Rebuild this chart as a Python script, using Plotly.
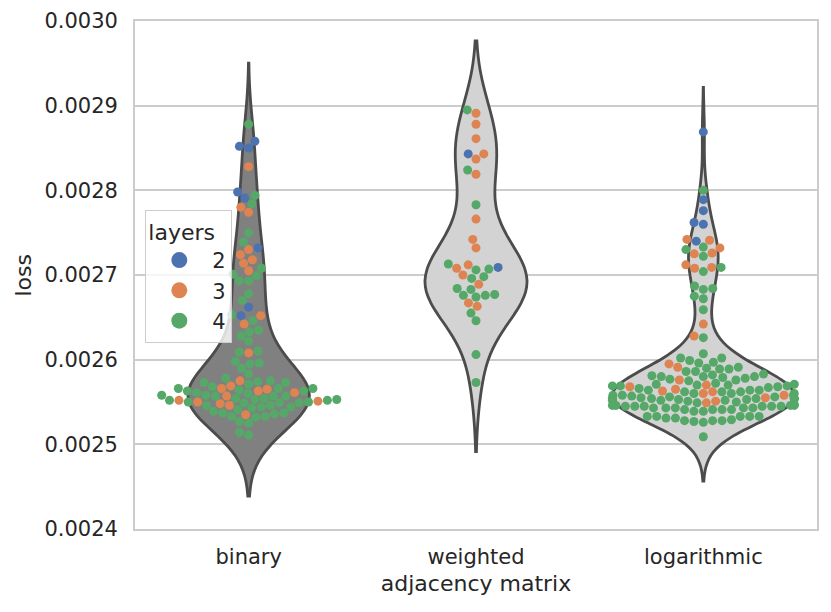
import numpy as np
import plotly.graph_objects as go

# ---------------- data ----------------
categories = ["binary", "weighted", "logarithmic"]
layer_names = ["2", "3", "4"]
layer_colors = ["#4C72B0", "#DD8452", "#55A868"]
violin_fills = ["#808080", "#D3D3D3", "#D3D3D3"]
violin_edge = "#4C4C4C"
y_ticks = [0.0024, 0.0025, 0.0026, 0.0027, 0.0028, 0.0029, 0.0030]

binary_l2 = [0.002858, 0.002852, 0.002850, 0.002798, 0.002791, 0.002732, 0.002662, 0.002652]
binary_l3 = [0.002828, 0.002780, 0.002774, 0.002730, 0.002724, 0.002718, 0.002714, 0.002705,
             0.002652, 0.002642, 0.002608,
             0.002550, 0.002561, 0.002565, 0.002546, 0.002569, 0.002575, 0.002548, 0.002557,
             0.002552, 0.002535, 0.002566, 0.002563, 0.002551]
binary_l4 = [0.002878, 0.002794, 0.002784, 0.002750, 0.002739, 0.002708, 0.002701, 0.002699,
             0.002693, 0.002693, 0.002678, 0.002670, 0.002653, 0.002646, 0.002635, 0.002633,
             0.002628, 0.002622, 0.002610, 0.002609, 0.002598, 0.002596, 0.002595, 0.002590,
             0.002583,
             0.002573, 0.002578, 0.002575, 0.002568, 0.002574, 0.002571, 0.002573, 0.002566,
             0.002563, 0.002564, 0.002563, 0.002566, 0.002566, 0.002557, 0.002557, 0.002558,
             0.002558, 0.002560, 0.002561, 0.002557, 0.002554, 0.002553, 0.002552, 0.002549,
             0.002553, 0.002549, 0.002554, 0.002550, 0.002549, 0.002550, 0.002552, 0.002546,
             0.002544, 0.002543, 0.002544, 0.002546, 0.002539, 0.002536, 0.002533, 0.002532,
             0.002533, 0.002537, 0.002541, 0.002537, 0.002527, 0.002525, 0.002514, 0.002511]

weighted_l2 = [0.002843, 0.002709]
weighted_l3 = [0.002891, 0.002878, 0.002861, 0.002843, 0.002837, 0.002819, 0.002766, 0.002742,
               0.002732, 0.002708, 0.002712, 0.002700, 0.002689, 0.002667, 0.002663]
weighted_l4 = [0.002895, 0.002824, 0.002783, 0.002713, 0.002707, 0.002706, 0.002696, 0.002698,
               0.002677, 0.002676, 0.002683, 0.002684, 0.002676, 0.002674, 0.002655, 0.002646,
               0.002606, 0.002573]

logarithmic_l2 = [0.002869, 0.002789, 0.002776, 0.002762, 0.002760, 0.002740]
logarithmic_l3 = [0.002742, 0.002741, 0.002732, 0.002725, 0.002726, 0.002712, 0.002708, 0.002709,
                  0.002642, 0.002628,
                  0.002595, 0.002591, 0.002576, 0.002568, 0.002565, 0.002562, 0.002560, 0.002563,
                  0.002570, 0.002551, 0.002558, 0.002555, 0.002549]
logarithmic_l4 = [0.002800, 0.002730, 0.002733, 0.002722, 0.002704, 0.002709, 0.002687, 0.002683,
                  0.002684, 0.002675, 0.002672, 0.002659, 0.002626,
                  0.002607, 0.002602, 0.002602, 0.002599, 0.002597, 0.002596,
                  0.002586, 0.002589, 0.002589, 0.002590, 0.002591, 0.002583, 0.002586,
                  0.002577, 0.002580, 0.002579, 0.002578, 0.002580, 0.002581, 0.002580, 0.002582,
                  0.002569, 0.002572, 0.002569, 0.002568, 0.002576, 0.002575, 0.002571, 0.002570,
                  0.002569, 0.002567, 0.002571,
                  0.002562, 0.002564, 0.002562, 0.002560, 0.002558, 0.002566, 0.002558, 0.002562,
                  0.002564, 0.002564, 0.002560, 0.002570,
                  0.002554, 0.002554, 0.002558, 0.002552, 0.002554, 0.002551, 0.002550, 0.002554,
                  0.002556, 0.002553, 0.002554, 0.002553, 0.002554, 0.002554, 0.002552, 0.002556,
                  0.002552,
                  0.002545, 0.002541, 0.002539, 0.002545, 0.002543, 0.002541, 0.002543, 0.002541,
                  0.002545, 0.002546, 0.002546, 0.002545, 0.002543, 0.002545, 0.002543, 0.002543,
                  0.002545, 0.002541, 0.002546, 0.002546,
                  0.002533, 0.002533, 0.002531, 0.002529, 0.002528, 0.002526, 0.002533, 0.002527,
                  0.002528, 0.002528, 0.002531, 0.002533, 0.002533, 0.002539,
                  0.002509, 0.002560, 0.002557, 0.002555, 0.002549, 0.002547]

data = {
    "binary": [binary_l2, binary_l3, binary_l4],
    "weighted": [weighted_l2, weighted_l3, weighted_l4],
    "logarithmic": [logarithmic_l2, logarithmic_l3, logarithmic_l4],
}

# ---------------- layout geometry ----------------
PAGE_OFF = 8                      # default body margin of the page
W, H = 831 - 2 * PAGE_OFF, 612 - 2 * PAGE_OFF
M_L, M_R, M_T, M_B = 127, 6, 13, 75
X_RANGE = [-0.5, 2.5]
Y_RANGE = [0.0024, 0.0030]
PLOT_W = W - M_L - M_R
PLOT_H = H - M_T - M_B
PX_PER_X = PLOT_W / (X_RANGE[1] - X_RANGE[0])
PX_PER_Y = PLOT_H / (Y_RANGE[1] - Y_RANGE[0])
VIOLIN_WIDTH = 0.8
MARKER_D = 9.0


def swarm_offsets(values, d=MARKER_D, half_width=VIOLIN_WIDTH / 2):
    """Beeswarm placement (seaborn style) in pixel space, returns x offsets in data units."""
    ys = np.asarray(values, dtype=float) * PX_PER_Y
    order = np.argsort(ys, kind="mergesort")
    px, py = [], []
    offs = np.zeros(len(ys))
    for i in order:
        y = ys[i]
        nx = np.array([x for x, yy in zip(px, py) if abs(yy - y) < d])
        ny = np.array([yy for yy in py if abs(yy - y) < d])
        cands = [0.0]
        left_first = True
        for xj, yj in zip(nx, ny):
            dx = np.sqrt(max(d * d - (y - yj) ** 2, 0.0)) * 1.05
            pair = [xj - dx, xj + dx] if left_first else [xj + dx, xj - dx]
            cands.extend(pair)
            left_first = not left_first
        cands = np.array(cands)
        cands = cands[np.argsort(np.abs(cands), kind="mergesort")]
        chosen = cands[-1]
        for c in cands:
            if len(nx) == 0 or np.all((nx - c) ** 2 + (ny - y) ** 2 >= d * d - 1e-6):
                chosen = c
                break
        offs[i] = chosen
        px.append(chosen)
        py.append(y)
    hw = half_width * PX_PER_X
    offs = np.clip(offs, -hw, hw)
    return offs / PX_PER_X


def scott_bw(vals):
    v = np.asarray(vals, dtype=float)
    return v.std(ddof=1) * len(v) ** (-1 / 5)


fig = go.Figure()

# violins (shared scale group -> widths proportional to peak density)
for ci, cat in enumerate(categories):
    allv = sum(data[cat], [])
    fig.add_trace(go.Violin(
        x=[ci] * len(allv), y=allv,
        points=False, box_visible=False, meanline_visible=False,
        fillcolor=violin_fills[ci], opacity=1,
        line=dict(color=violin_edge, width=2.8),
        scalegroup="all", scalemode="width",
        spanmode="soft", bandwidth=scott_bw(allv),
        showlegend=False, hoverinfo="skip", orientation="v",
    ))

# swarm points
xs_by_layer = [[], [], []]
ys_by_layer = [[], [], []]
for ci, cat in enumerate(categories):
    groups = data[cat]
    allv = sum(groups, [])
    labels = sum([[li] * len(g) for li, g in enumerate(groups)], [])
    offs = swarm_offsets(allv)
    for v, li, o in zip(allv, labels, offs):
        xs_by_layer[li].append(ci + o)
        ys_by_layer[li].append(v)

for li in range(3):
    fig.add_trace(go.Scatter(
        x=xs_by_layer[li], y=ys_by_layer[li], mode="markers",
        marker=dict(size=MARKER_D, color=layer_colors[li], line=dict(width=0)),
        showlegend=False, hoverinfo="y",
    ))

# legend entries
for li in range(3):
    fig.add_trace(go.Scatter(
        x=[None], y=[None], mode="markers", name=layer_names[li],
        marker=dict(size=16, color=layer_colors[li]), showlegend=True,
    ))

LEG_LEFT, LEG_TOP = 145 - PAGE_OFF, 210 - PAGE_OFF
YTITLE_X = 22.5 - PAGE_OFF          # centre of the rotated y title (figure px)
fig.update_layout(
    width=W, height=H,
    margin=dict(l=M_L, r=M_R, t=M_T, b=M_B, autoexpand=False),
    paper_bgcolor="white", plot_bgcolor="white",
    font=dict(family="DejaVu Sans", size=21, color="#262626"),
    violinmode="overlay", violingap=1 - VIOLIN_WIDTH, violingroupgap=0,
    xaxis=dict(
        range=X_RANGE, tickvals=[0, 1, 2], ticktext=categories,
        showgrid=False, zeroline=False, showline=True, mirror=True,
        linecolor="#cccccc", linewidth=1.7,
        ticks="outside", ticklen=8, tickcolor="rgba(0,0,0,0)",
        title=dict(text="adjacency matrix", font=dict(size=22), standoff=8),
    ),
    yaxis=dict(
        range=Y_RANGE, tickvals=y_ticks, tickformat=".4f",
        showgrid=True, gridcolor="#cccccc", gridwidth=1.7,
        zeroline=False, showline=True, mirror=True,
        linecolor="#cccccc", linewidth=1.7,
        ticks="outside", ticklen=11, tickcolor="rgba(0,0,0,0)",
    ),
    annotations=[dict(
        text="loss", textangle=-90, showarrow=False,
        xref="paper", yref="paper", x=0, y=0.5,
        xanchor="center", yanchor="middle",
        xshift=YTITLE_X - M_L, font=dict(size=22, color="#262626"),
    )],
    legend=dict(
        x=(LEG_LEFT - M_L) / PLOT_W, y=(M_T + PLOT_H - LEG_TOP) / PLOT_H,
        xanchor="left", yanchor="top",
        bgcolor="rgba(255,255,255,0.8)", bordercolor="#cccccc", borderwidth=1.3,
        font=dict(size=21, color="#262626"),
        title=dict(text="layers", font=dict(size=22)),
        itemwidth=56, tracegroupgap=0,
    ),
)

fig.write_html("out.html")
